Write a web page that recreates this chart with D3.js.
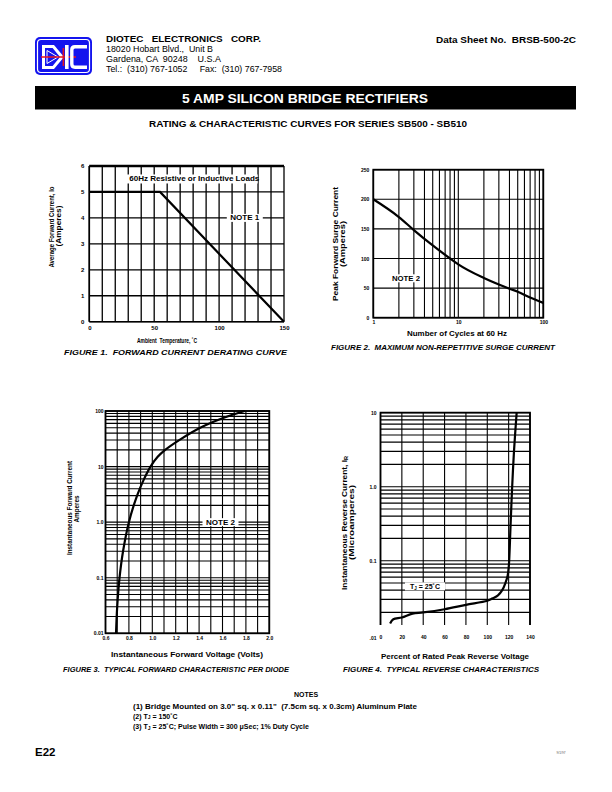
<!DOCTYPE html>
<html><head><meta charset="utf-8">
<script src="https://cdn.jsdelivr.net/npm/d3@7/dist/d3.min.js"></script>
<style>
body{margin:0;background:#fff}
svg{display:block}
text{font-family:"Liberation Sans",Arial,Helvetica,sans-serif;white-space:pre}
</style>
</head><body>
<svg id="page" width="612" height="792"></svg>
<script>
// ---------- DATA ----------
// Figure 1: forward current derating curve
const fig1Temp = [0, 54.5, 150];
const fig1Current = [5, 5, 0];
const fig1XGrid = d3.range(0, 151, 10);
const fig1YGrid = [0, 1, 2, 3, 4, 5, 6];
const fig1XTicks = [0, 50, 100, 150];
const fig1YTicks = [0, 1, 2, 3, 4, 5, 6];

// Figure 2: maximum non-repetitive surge current
const fig2Cycles = [1, 2, 3, 5, 8, 10, 20, 30, 40, 50, 70, 100];
const fig2Surge  = [200, 170, 148, 122, 100, 90, 67, 56, 49, 44, 34, 25];
const fig2XGrid = [1,2,3,4,5,6,7,8,9,10,20,30,40,50,60,70,80,90,100];
const fig2YGrid = [0, 50, 100, 150, 200, 250];
const fig2XTicks = [1, 10, 100];
const fig2YTicks = [0, 50, 100, 150, 200, 250];

// Figure 3: typical forward characteristic
const fig3Volts = [0.69, 0.70, 0.72, 0.75, 0.80, 0.87, 0.93, 0.985, 1.046, 1.11, 1.23, 1.41, 1.60, 1.79];
const fig3Amps  = [0.01, 0.03, 0.1, 0.3, 1.0, 3, 6, 10, 15, 20, 30, 50, 74, 100];
const fig3XGrid = d3.range(6, 21).map(d => d / 10);
const fig3YGrid = [0.01,0.02,0.03,0.04,0.05,0.06,0.07,0.08,0.09,0.1,0.2,0.3,0.4,0.5,0.6,0.7,0.8,0.9,1,2,3,4,5,6,7,8,9,10,20,30,40,50,60,70,80,90,100];
const fig3XTicks = [0.6, 0.8, 1.0, 1.2, 1.4, 1.6, 1.8, 2.0];
const fig3YTicks = [0.01, 0.1, 1, 10, 100];
const fig3YLabels = ["0.01", "0.1", "1.0", "10", "100"];

// Figure 4: typical reverse characteristics
const fig4Percent = [9, 12, 20, 30, 40, 60, 80, 100, 105, 110, 114, 117, 119, 120, 120.5, 121.8, 123.3, 125, 127.5];
const fig4Micro   = [0.0142, 0.0162, 0.0171, 0.0193, 0.02, 0.0221, 0.0253, 0.0287, 0.031, 0.034, 0.04, 0.05, 0.062, 0.08, 0.1, 0.3, 1.0, 3.0, 10];
const fig4XGrid = [0, 20, 40, 60, 80, 100, 120, 140];
const fig4YGrid = [0.02,0.03,0.04,0.05,0.06,0.07,0.08,0.09,0.1,0.2,0.3,0.4,0.5,0.6,0.7,0.8,0.9,1,2,3,4,5,6,7,8,9,10];
const fig4XTicks = [0, 20, 40, 60, 80, 100, 120, 140];
const fig4YTicks = [0.1, 1, 10];
const fig4YLabels = ["0.1", "1.0", "10"];

// ---------- HELPERS ----------
const svg = d3.select("#page");

function txt(g, x, y, s, o = {}) {
  const t = g.append("text").attr("x", x).attr("y", y)
    .attr("font-size", o.size || 6)
    .attr("font-weight", o.weight || "bold")
    .attr("text-anchor", o.anchor || "middle")
    .attr("fill", o.fill || "#000");
  if (o.italic) t.attr("font-style", "italic");
  if (o.len) t.attr("textLength", o.len).attr("lengthAdjust", "spacingAndGlyphs");
  if (o.rot) t.attr("transform", `rotate(-90,${x},${y})`);
  if (o.html) t.html(s); else t.text(s);
  return t;
}

function grid(g, x, y, xVals, yVals, sw, yTop, yBot) {
  const top = yTop !== undefined ? yTop : y.range()[1];
  const bot = yBot !== undefined ? yBot : y.range()[0];
  g.append("g").selectAll("line").data(xVals).join("line")
    .attr("x1", d => x(d)).attr("x2", d => x(d))
    .attr("y1", top).attr("y2", bot)
    .attr("stroke", "#000").attr("stroke-width", sw);
  g.append("g").selectAll("line").data(yVals).join("line")
    .attr("x1", x.range()[0]).attr("x2", x.range()[1])
    .attr("y1", d => y(d)).attr("y2", d => y(d))
    .attr("stroke", "#000").attr("stroke-width", sw);
}

function labelAxis(g, axis, tx, ty, size) {
  const a = g.append("g").attr("transform", `translate(${tx},${ty})`).call(axis);
  a.select(".domain").remove();
  a.selectAll(".tick line").remove();
  a.attr("font-family", null).attr("font-size", null);
  a.selectAll("text").attr("font-size", size).attr("font-weight", "bold").attr("fill", "#000");
  return a;
}

function labelBox(g, cx, cy, w, h) {
  g.append("rect").attr("x", cx - w / 2).attr("y", cy - h / 2)
    .attr("width", w).attr("height", h).attr("fill", "#fff");
}

// ---------- HEADER ----------
const hdr = svg.append("g");
// Logo
const logo = hdr.append("g");
logo.append("rect").attr("x", 35).attr("y", 37).attr("width", 57).attr("height", 38)
  .attr("rx", 5).attr("fill", "#1414ee");
logo.append("rect").attr("x", 37.5).attr("y", 39.5).attr("width", 52).attr("height", 33)
  .attr("rx", 3.5).attr("fill", "none").attr("stroke", "#fff").attr("stroke-width", 1.2);
logo.append("path").attr("d", "M42,45 L54,45 L64,57 L54,69 L42,69 Z").attr("fill", "#fff");
logo.append("path").attr("d", "M45,48 L52.6,48 L60,57 L52.6,66 L45,66 Z").attr("fill", "#1414ee");
logo.append("path").attr("d", "M47,50.5 L58,57 L47,63.5 Z").attr("fill", "#1414ee")
  .attr("stroke", "#fff").attr("stroke-width", 1);
logo.append("line").attr("x1", 41).attr("x2", 76).attr("y1", 57).attr("y2", 57)
  .attr("stroke", "#e8141e").attr("stroke-width", 1.4);
logo.append("rect").attr("x", 62.6).attr("y", 48).attr("width", 1.6).attr("height", 18).attr("fill", "#e8141e");
logo.append("rect").attr("x", 65).attr("y", 45).attr("width", 3.6).attr("height", 24).attr("fill", "#fff");
logo.append("path").attr("d", "M87,46.8 H75 Q71.8,46.8 71.8,50 V64 Q71.8,67.2 75,67.2 H87")
  .attr("fill", "none").attr("stroke", "#fff").attr("stroke-width", 3.4);

txt(hdr, 106, 42, "DIOTEC   ELECTRONICS   CORP.", {size: 9.5, anchor: "start", len: 155});
txt(hdr, 106, 51.5, "18020 Hobart Blvd.,  Unit B", {size: 9, weight: "normal", anchor: "start", len: 107});
txt(hdr, 106, 61.5, "Gardena, CA  90248    U.S.A", {size: 9, weight: "normal", anchor: "start", len: 115});
txt(hdr, 106, 71.5, "Tel.:  (310) 767-1052     Fax:  (310) 767-7958", {size: 9, weight: "normal", anchor: "start", len: 176});
txt(hdr, 576, 42.5, "Data Sheet No.  BRSB-500-2C", {size: 9.5, anchor: "end", len: 140});

hdr.append("rect").attr("x", 35).attr("y", 86).attr("width", 541).attr("height", 23.5).attr("fill", "#000");
txt(hdr, 305, 103, "5 AMP SILICON BRIDGE RECTIFIERS", {size: 13.5, fill: "#fff", len: 246});
txt(hdr, 308, 127, "RATING & CHARACTERISTIC CURVES FOR SERIES SB500 - SB510", {size: 8.5, len: 318});

// ---------- FIGURE 1 ----------
{
  const g = svg.append("g");
  const x = d3.scaleLinear().domain([0, 150]).range([89.3, 284]);
  const y = d3.scaleLinear().domain([0, 6]).range([321.7, 166]);
  grid(g, x, y, fig1XGrid, fig1YGrid, 1.3);
  g.append("line").attr("x1", x(0)).attr("x2", x(150)).attr("y1", y(6)).attr("y2", y(6))
    .attr("stroke", "#000").attr("stroke-width", 2.6);
  g.append("line").attr("x1", x(0)).attr("x2", x(0)).attr("y1", y(0)).attr("y2", y(6))
    .attr("stroke", "#000").attr("stroke-width", 1.6);
  g.append("line").attr("x1", x(0)).attr("x2", x(150)).attr("y1", y(0)).attr("y2", y(0))
    .attr("stroke", "#000").attr("stroke-width", 1.6);

  labelBox(g, (x(27) + x(130)) / 2, y(5.5), 133, 9);
  txt(g, 194.3, y(5.5) + 2.5, "60Hz Resistive or Inductive Loads", {size: 7, len: 130});
  labelBox(g, 244.8, y(4), 36, 8);
  txt(g, 244.8, y(4) + 2.5, "NOTE 1", {size: 7, len: 29});

  g.append("path").datum(fig1Temp.map((t, i) => [t, fig1Current[i]]))
    .attr("d", d3.line().x(d => x(d[0])).y(d => y(d[1])))
    .attr("fill", "none").attr("stroke", "#000").attr("stroke-width", 2.2);

  labelAxis(g, d3.axisBottom(x).tickValues(fig1XTicks).tickSize(0).tickPadding(4).tickFormat(d3.format("d")), 0, y(0), 6);
  labelAxis(g, d3.axisLeft(y).tickValues(fig1YTicks).tickSize(0).tickPadding(5).tickFormat(d3.format("d")), x(0), 0, 6);

  txt(g, 167, 342.5, "Ambient  Temperature, ˚C", {size: 7.8, len: 60});
  txt(g, 53.5, 227, "Average Forward Current, Io", {size: 7.8, rot: true, len: 81});
  txt(g, 61, 226, "(Amperes)", {size: 7.4, rot: true, len: 41});
  txt(g, 175.5, 355, "FIGURE 1.  FORWARD CURRENT DERATING CURVE", {size: 7.8, italic: true, len: 223});
}

// ---------- FIGURE 2 ----------
{
  const g = svg.append("g");
  const x = d3.scaleLog().domain([1, 100]).range([373.3, 543.3]);
  const y = d3.scaleLinear().domain([0, 250]).range([317.7, 169.7]);
  grid(g, x, y, fig2XGrid, fig2YGrid, 1.1);
  g.append("rect").attr("x", x(1)).attr("y", y(250)).attr("width", x(100) - x(1)).attr("height", y(0) - y(250))
    .attr("fill", "none").attr("stroke", "#000").attr("stroke-width", 1.8);

  labelBox(g, 406, 278.3, 31, 8);
  txt(g, 406, 280.8, "NOTE 2", {size: 7, len: 28});

  g.append("path").datum(fig2Cycles.map((c, i) => [c, fig2Surge[i]]))
    .attr("d", d3.line().x(d => x(d[0])).y(d => y(d[1])).curve(d3.curveMonotoneX))
    .attr("fill", "none").attr("stroke", "#000").attr("stroke-width", 2.2);

  labelAxis(g, d3.axisBottom(x).tickValues(fig2XTicks).tickSize(0).tickPadding(3).tickFormat(d3.format("d")), 0, y(0), 5);
  labelAxis(g, d3.axisLeft(y).tickValues(fig2YTicks).tickSize(0).tickPadding(4).tickFormat(d3.format("d")), x(1), 0, 5);

  txt(g, 457, 335.5, "Number of Cycles at 60 Hz", {size: 7.5, len: 100});
  txt(g, 337.5, 244, "Peak Forward Surge Current", {size: 7.5, rot: true, len: 114});
  txt(g, 344.5, 244, "(Amperes)", {size: 7.5, rot: true, len: 46});
  txt(g, 443, 350, "FIGURE 2.  MAXIMUM NON-REPETITIVE SURGE CURRENT", {size: 7.8, italic: true, len: 224});
}

// ---------- FIGURE 3 ----------
{
  const g = svg.append("g");
  const x = d3.scaleLinear().domain([0.6, 2.0]).range([105.5, 269.3]);
  const y = d3.scaleLog().domain([0.01, 100]).range([633.3, 411]);
  grid(g, x, y, fig3XGrid, fig3YGrid, 1.1);
  g.append("rect").attr("x", x(0.6)).attr("y", y(100)).attr("width", x(2.0) - x(0.6)).attr("height", y(0.01) - y(100))
    .attr("fill", "none").attr("stroke", "#000").attr("stroke-width", 1.8);

  labelBox(g, 220.5, y(1), 36, 8);
  txt(g, 220.5, y(1) + 2.5, "NOTE 2", {size: 7, len: 29});

  g.append("path").datum(fig3Volts.map((v, i) => [v, fig3Amps[i]]))
    .attr("d", d3.line().x(d => x(d[0])).y(d => y(d[1])).curve(d3.curveCatmullRom.alpha(0.5)))
    .attr("fill", "none").attr("stroke", "#000").attr("stroke-width", 2.2);

  labelAxis(g, d3.axisBottom(x).tickValues(fig3XTicks).tickSize(0).tickPadding(3).tickFormat(d3.format(".1f")), 0, y(0.01), 5);
  labelAxis(g, d3.axisLeft(y).tickValues(fig3YTicks).tickSize(0).tickPadding(2).tickFormat((d, i) => fig3YLabels[i]), x(0.6), 0, 5);

  txt(g, 187, 657, "Instantaneous Forward Voltage (Volts)", {size: 7.5, len: 152});
  txt(g, 72, 508, "Instantaneous Forward Current", {size: 7.5, rot: true, len: 94});
  txt(g, 79, 509, "Amperes", {size: 7.5, rot: true, len: 27});
  txt(g, 176, 672, "FIGURE 3.  TYPICAL FORWARD CHARACTERISTIC PER DIODE", {size: 7.8, italic: true, len: 226});
}

// ---------- FIGURE 4 ----------
{
  const g = svg.append("g");
  const x = d3.scaleLinear().domain([0, 140]).range([380.5, 530]);
  const y = d3.scaleLog().domain([0.01, 10]).range([634.7, 412.7]);
  const plotBottom = 625;
  grid(g, x, y, fig4XGrid, fig4YGrid, 1.1, y(10), plotBottom);
  g.append("path").attr("d", `M${x(0)},${plotBottom} V${y(10)} H${x(140)} V${plotBottom}`)
    .attr("fill", "none").attr("stroke", "#000").attr("stroke-width", 1.8);

  labelBox(g, 425, y(0.045), 40, 8);
  txt(g, 425, y(0.045) + 2.5, 'T<tspan font-size="4.5" dy="0.8">J</tspan><tspan dy="-0.8"> = 25˚C</tspan>', {size: 7, html: true});

  g.append("path").datum(fig4Percent.map((p, i) => [p, fig4Micro[i]]))
    .attr("d", d3.line().x(d => x(d[0])).y(d => y(d[1])).curve(d3.curveCatmullRom.alpha(0.5)))
    .attr("fill", "none").attr("stroke", "#000").attr("stroke-width", 2.2);

  labelAxis(g, d3.axisBottom(x).tickValues(fig4XTicks).tickSize(0).tickPadding(10).tickFormat(d3.format("d")), 0, plotBottom, 5);
  labelAxis(g, d3.axisLeft(y).tickValues(fig4YTicks).tickSize(0).tickPadding(4).tickFormat((d, i) => fig4YLabels[i]), x(0), 0, 5);
  txt(g, x(0) - 4, 640, ".01", {size: 5, anchor: "end"});

  txt(g, 455, 658.5, "Percent of Rated Peak Reverse Voltage", {size: 7.5, len: 148});
  txt(g, 347, 523, 'Instantaneous Reverse Current, I<tspan font-size="5" dy="1">R</tspan>', {size: 7.5, rot: true, html: true, len: 134});
  txt(g, 354, 522.5, "(Microamperes)", {size: 7.5, rot: true, len: 75});
  txt(g, 441, 672, "FIGURE 4.  TYPICAL REVERSE CHARACTERISTICS", {size: 7.8, italic: true, len: 196});
}

// ---------- NOTES / FOOTER ----------
{
  const g = svg.append("g");
  txt(g, 306, 696.5, "NOTES", {size: 7});
  txt(g, 133, 708.5, '(1) Bridge Mounted on 3.0" sq. x 0.11"  (7.5cm sq. x 0.3cm) Aluminum Plate', {size: 7, anchor: "start", len: 284});
  txt(g, 133, 718.5, '(2) T<tspan font-size="5" dy="0.8">J</tspan><tspan dy="-0.8"> = 150˚C</tspan>', {size: 7, anchor: "start", html: true});
  txt(g, 133, 729, '(3) T<tspan font-size="5" dy="0.8">J</tspan><tspan dy="-0.8"> = 25˚C; Pulse Width = 300 μSec; 1% Duty Cycle</tspan>', {size: 7, anchor: "start", html: true});
  txt(g, 35, 756, "E22", {size: 11.5, anchor: "start"});
  txt(g, 561, 754, "9/1/97", {size: 3.2, weight: "normal", fill: "#555"});
}
</script>
</body></html>
